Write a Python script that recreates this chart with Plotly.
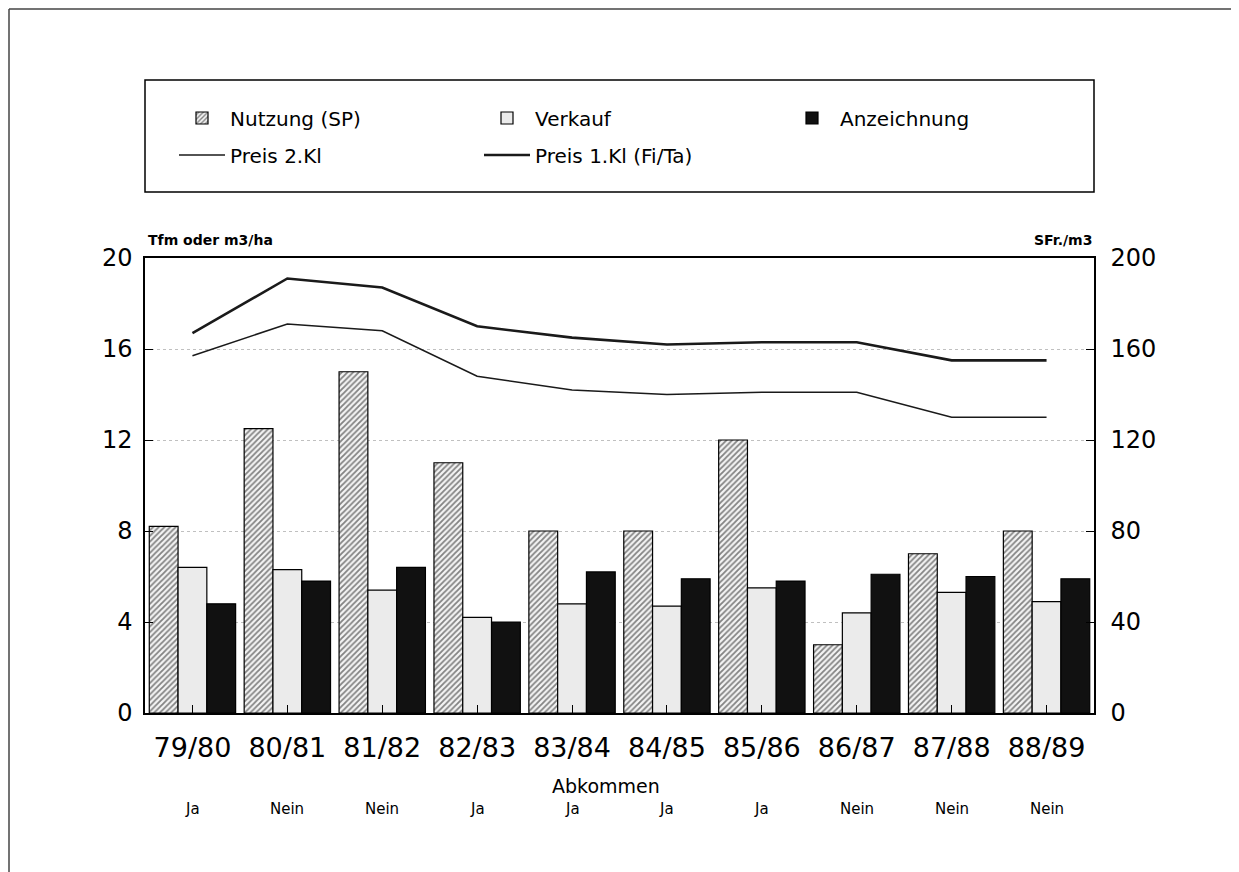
import plotly.graph_objects as go

# ---- data ----
years = ["79/80", "80/81", "81/82", "82/83", "83/84", "84/85", "85/86", "86/87", "87/88", "88/89"]
abkommen = ["Ja", "Nein", "Nein", "Ja", "Ja", "Ja", "Ja", "Nein", "Nein", "Nein"]
nutzung = [8.2, 12.5, 15.0, 11.0, 8.0, 8.0, 12.0, 3.0, 7.0, 8.0]
verkauf = [6.4, 6.3, 5.4, 4.2, 4.8, 4.7, 5.5, 4.4, 5.3, 4.9]
anzeichnung = [4.8, 5.8, 6.4, 4.0, 6.2, 5.9, 5.8, 6.1, 6.0, 5.9]
preis_2kl = [157, 171, 168, 148, 142, 140, 141, 141, 130, 130]
preis_1kl = [167, 191, 187, 170, 165, 162, 163, 163, 155, 155]
left_ticks = [0, 4, 8, 12, 16, 20]
right_ticks = [0, 40, 80, 120, 160, 200]

FONT = "DejaVu Sans"
OFF = 8  # page body margin
W, H = 1239 - OFF, 872 - OFF
PL, PR, PT, PB = 145, 1094, 258, 713   # plot area in window pixels
PW, PH = PR - PL, PB - PT
L, T = PL - OFF, PT - OFF
R, B = W - L - PW, H - T - PH

def px(x):
    return (x - PL) / PW

def py(y):
    return (PB - y) / PH

fig = go.Figure()
outline = dict(color="black", width=1.2)
fig.add_trace(go.Bar(x=years, y=nutzung, name="Nutzung (SP)", legend="legend",
                     marker=dict(color="white", line=outline,
                                 pattern=dict(shape="/", fgcolor="#111111", bgcolor="#f4f4f4",
                                              size=4, solidity=0.45))))
fig.add_trace(go.Bar(x=years, y=verkauf, name="Verkauf", legend="legend",
                     marker=dict(color="#ebebeb", line=outline)))
fig.add_trace(go.Bar(x=years, y=anzeichnung, name="Anzeichnung", legend="legend",
                     marker=dict(color="#111111", line=outline)))
fig.add_trace(go.Scatter(x=years, y=preis_2kl, name="Preis 2.Kl", yaxis="y2", mode="lines",
                         legend="legend2", line=dict(color="#1a1a1a", width=1.6)))
fig.add_trace(go.Scatter(x=years, y=preis_1kl, name="Preis 1.Kl (Fi/Ta)", yaxis="y2", mode="lines",
                         legend="legend2", line=dict(color="#1a1a1a", width=2.6)))

legend_common = dict(orientation="h", xanchor="left", yanchor="middle",
                     font=dict(family=FONT, size=20, color="black"),
                     bgcolor="rgba(0,0,0,0)", borderwidth=0,
                     itemwidth=46, entrywidth=244, entrywidthmode="pixels",
                     itemclick=False, itemdoubleclick=False)

fig.update_layout(
    width=W, height=H,
    margin=dict(l=L, r=R, t=T, b=B, autoexpand=False),
    paper_bgcolor="white", plot_bgcolor="white",
    font=dict(family=FONT, color="black"),
    barmode="group", bargap=0.09, bargroupgap=0,
    legend=dict(x=px(174), y=py(118), **legend_common),
    legend2=dict(x=px(174), y=py(155), **legend_common),
    xaxis=dict(range=[-0.5, 9.5], showline=True, linecolor="black", linewidth=1.5, mirror=True,
               ticks="inside", ticklen=8, tickcolor="black", tickwidth=1,
               tickfont=dict(family=FONT, size=27), ticklabelstandoff=10, showgrid=False),
    yaxis=dict(range=[0, 20], tickvals=left_ticks, showline=True, linecolor="black", linewidth=1.5,
               mirror=True, ticks="inside", ticklen=8, tickcolor="black",
               tickfont=dict(family=FONT, size=24), ticklabelstandoff=6,
               showgrid=True, gridcolor="#c0c0c0", griddash="dot", gridwidth=1, zeroline=False),
    yaxis2=dict(range=[0, 200], tickvals=right_ticks, overlaying="y", side="right",
                showline=True, linecolor="black", linewidth=1.5, ticks="inside", ticklen=8,
                tickcolor="black", tickfont=dict(family=FONT, size=24), ticklabelstandoff=10,
                showgrid=False, zeroline=False),
)

# legend frame and outer frame (left and top edges)
fig.add_shape(type="rect", xref="paper", yref="paper", x0=0, x1=1, y0=py(192), y1=py(80),
              line=dict(color="black", width=1.5), layer="below")
fig.add_shape(type="line", xref="paper", yref="paper", x0=px(9), x1=px(1245), y0=py(9), y1=py(9),
              line=dict(color="#444444", width=1.5), layer="below")
fig.add_shape(type="line", xref="paper", yref="paper", x0=px(9), x1=px(9), y0=py(9), y1=py(880),
              line=dict(color="#444444", width=1.5), layer="below")

# axis titles
fig.add_annotation(text="<b>Tfm oder m3/ha</b>", xref="paper", yref="paper", x=px(146), y=py(240),
                   xanchor="left", yanchor="middle", showarrow=False,
                   font=dict(family=FONT, size=14, color="black"))
fig.add_annotation(text="<b>SFr./m3</b>", xref="paper", yref="paper", x=px(1094), y=py(240),
                   xanchor="right", yanchor="middle", showarrow=False,
                   font=dict(family=FONT, size=14, color="black"))
fig.add_annotation(text="Abkommen", xref="paper", yref="paper", x=px(606), y=py(786),
                   xanchor="center", yanchor="middle", showarrow=False,
                   font=dict(family=FONT, size=19, color="black"))
for yr, ab in zip(years, abkommen):
    fig.add_annotation(text=ab, xref="x", yref="paper", x=yr, y=py(809),
                       xanchor="center", yanchor="middle", showarrow=False,
                       font=dict(family=FONT, size=15, color="black"))

fig.write_html("out.html")
